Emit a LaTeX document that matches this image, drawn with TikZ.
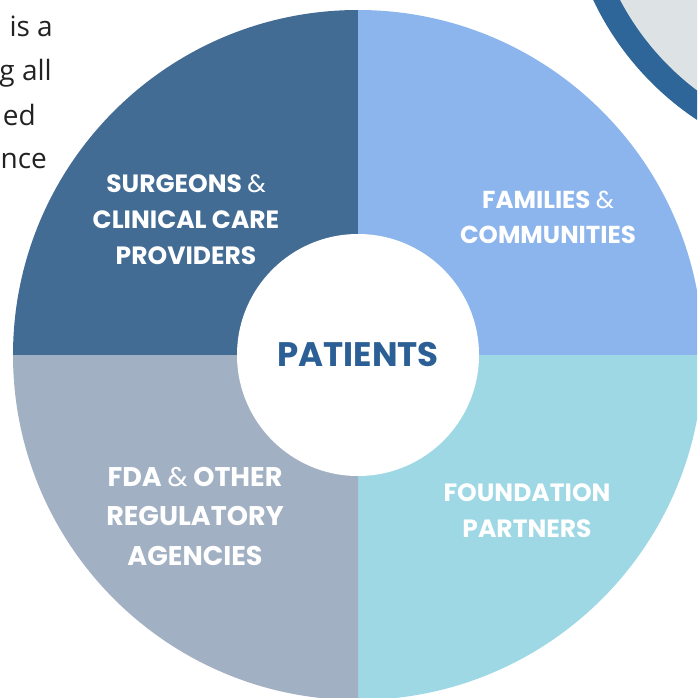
\documentclass[tikz,border=0pt]{standalone}
\usepackage{fontspec}
\setmainfont{Poppins}
\newfontfamily\bodyfont{Open Sans}
\usetikzlibrary{positioning}

\definecolor{surgblue}{HTML}{436C94}
\definecolor{famblue}{HTML}{8BB5EC}
\definecolor{fdagray}{HTML}{A1B0C3}
\definecolor{fndcyan}{HTML}{9DD8E4}
\definecolor{patblue}{HTML}{2B5F95}
\definecolor{ringblue}{HTML}{2E6699}
\definecolor{ringgray}{HTML}{DDE3E4}
\definecolor{bodygray}{HTML}{222222}

\newcommand{\amp}{{\mdseries\&}}

\tikzset{
  quarter/.style={text=white, align=center, font=\bfseries\fontsize{25}{36}\selectfont},
  bodyline/.style={anchor=base east, text=bodygray, font=\bodyfont\fontsize{28}{30}\selectfont, inner sep=0pt}
}

\begin{document}
\begin{tikzpicture}[x=1pt,y=1pt]
\useasboundingbox (0,0) rectangle (697,-698);
\clip (0,0) rectangle (697,-698);
% corner ring
\fill[ringgray] (860,126) circle (283);
\draw[ringblue, line width=24] (860,126) circle (283);
% end of the paragraph
\node[bodyline] (l1) at (53,-37) {is a};
\node[bodyline] (l2) at (52,-81) {g all};
\node[bodyline] (l3) at (36,-125) {ed};
\node[bodyline] (l4) at (47,-168) {nce};
% four quarters
\coordinate (c) at (358,-355);
\fill[surgblue] (c) -- (13,-355) arc (180:90:345) -- cycle;
\fill[famblue] (c) -- (358,-10) arc (90:0:345) -- cycle;
\fill[fndcyan] (c) -- (703,-355) arc (0:-90:345) -- cycle;
\fill[fdagray] (c) -- (358,-700) arc (-90:-180:345) -- cycle;
% centre
\node[circle, fill=white, minimum size=242, inner sep=0pt, text=patblue,
  font=\bfseries\fontsize{34}{36}\selectfont] (patients) at (c) {PATIENTS};
\node[quarter] (surgeons) at (186,-220) {SURGEONS \amp\\CLINICAL CARE\\PROVIDERS};
\node[quarter, font=\bfseries\fontsize{24.5}{35}\selectfont] (families) at (548,-217) {FAMILIES \amp\\COMMUNITIES};
\node[quarter, font=\bfseries\fontsize{27}{39.5}\selectfont] (fda) at (195,-516) {FDA \amp{} OTHER\\REGULATORY\\AGENCIES};
\node[quarter] (foundation) at (527,-511) {FOUNDATION\\PARTNERS};
\end{tikzpicture}
\end{document}
